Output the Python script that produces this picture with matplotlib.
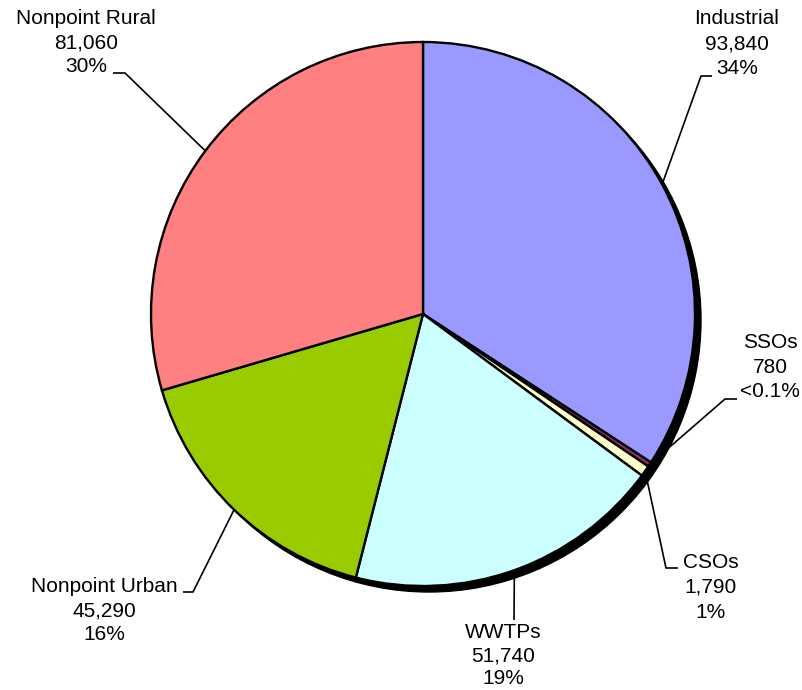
import matplotlib
matplotlib.use("Agg")
import matplotlib.pyplot as plt
from matplotlib.patches import Circle
import numpy as np

categories = ["Industrial", "SSOs", "CSOs", "WWTPs", "Nonpoint Urban", "Nonpoint Rural"]
values = [93840, 780, 1790, 51740, 45290, 81060]
value_labels = ["93,840", "780", "1,790", "51,740", "45,290", "81,060"]
pct_labels = ["34%", "<0.1%", "1%", "19%", "16%", "30%"]
colors = ["#9999FF", "#993366", "#FFFFCC", "#CCFFFF", "#99CC00", "#FF8080"]

W, H = 803, 690
fig = plt.figure(figsize=(W / 100, H / 100), dpi=100)
ax = fig.add_axes([0, 0, 1, 1])

def Y(y):
    return H - y

cx, cy, R = 423, 314, 272

# shadow
ax.add_patch(Circle((cx + 6, Y(cy + 6)), R, color="black", zorder=1))

wedges, _ = ax.pie(values, startangle=90, counterclock=False,
                   center=(cx, Y(cy)), radius=R, colors=colors,
                   wedgeprops=dict(edgecolor="black", linewidth=1.7))
for w in wedges:
    w.set_zorder(2)

# leader lines: from slice mid-edge to label positions (pixel coords)
total = sum(values)
ang = 90.0
mids = []
for v in values:
    span = v / total * 360
    mids.append(ang - span / 2)
    ang -= span

elbows = {
    "Industrial": [(701, 76), (712, 76)],
    "SSOs": [(725, 399), (737, 399)],
    "CSOs": [(666, 568), (678, 568)],
    "WWTPs": [(514, 620)],
    "Nonpoint Urban": [(193, 592), (183, 592)],
    "Nonpoint Rural": [(125, 73), (113, 73)],
}
for cat, m in zip(categories, mids):
    ex = cx + R * np.cos(np.radians(m))
    ey = cy - R * np.sin(np.radians(m))
    pts = [(ex, ey)] + elbows[cat]
    xs = [p[0] for p in pts]
    ys = [Y(p[1]) for p in pts]
    ax.plot(xs, ys, color="black", lw=1.2, zorder=0.5, solid_capstyle="butt")

label_pos = {
    "Industrial": (737, [19, 44, 68]),
    "SSOs": (770, [343, 368, 392]),
    "CSOs": (711, [562, 587, 612]),
    "WWTPs": (503, [632, 656, 679]),
    "Nonpoint Urban": (104, [587, 611, 635]),
    "Nonpoint Rural": (86, [18, 43, 67]),
}
for cat, vl, pl in zip(categories, value_labels, pct_labels):
    x, ys = label_pos[cat]
    for txt, yy in zip([cat, vl, pl], ys):
        ax.text(x, Y(yy), txt, ha="center", va="center", fontsize=15,
                family="Liberation Sans", color="black", zorder=5)

ax.set_xlim(0, W)
ax.set_ylim(0, H)
ax.set_aspect("equal")
ax.axis("off")
fig.savefig("out.png", dpi=100)
